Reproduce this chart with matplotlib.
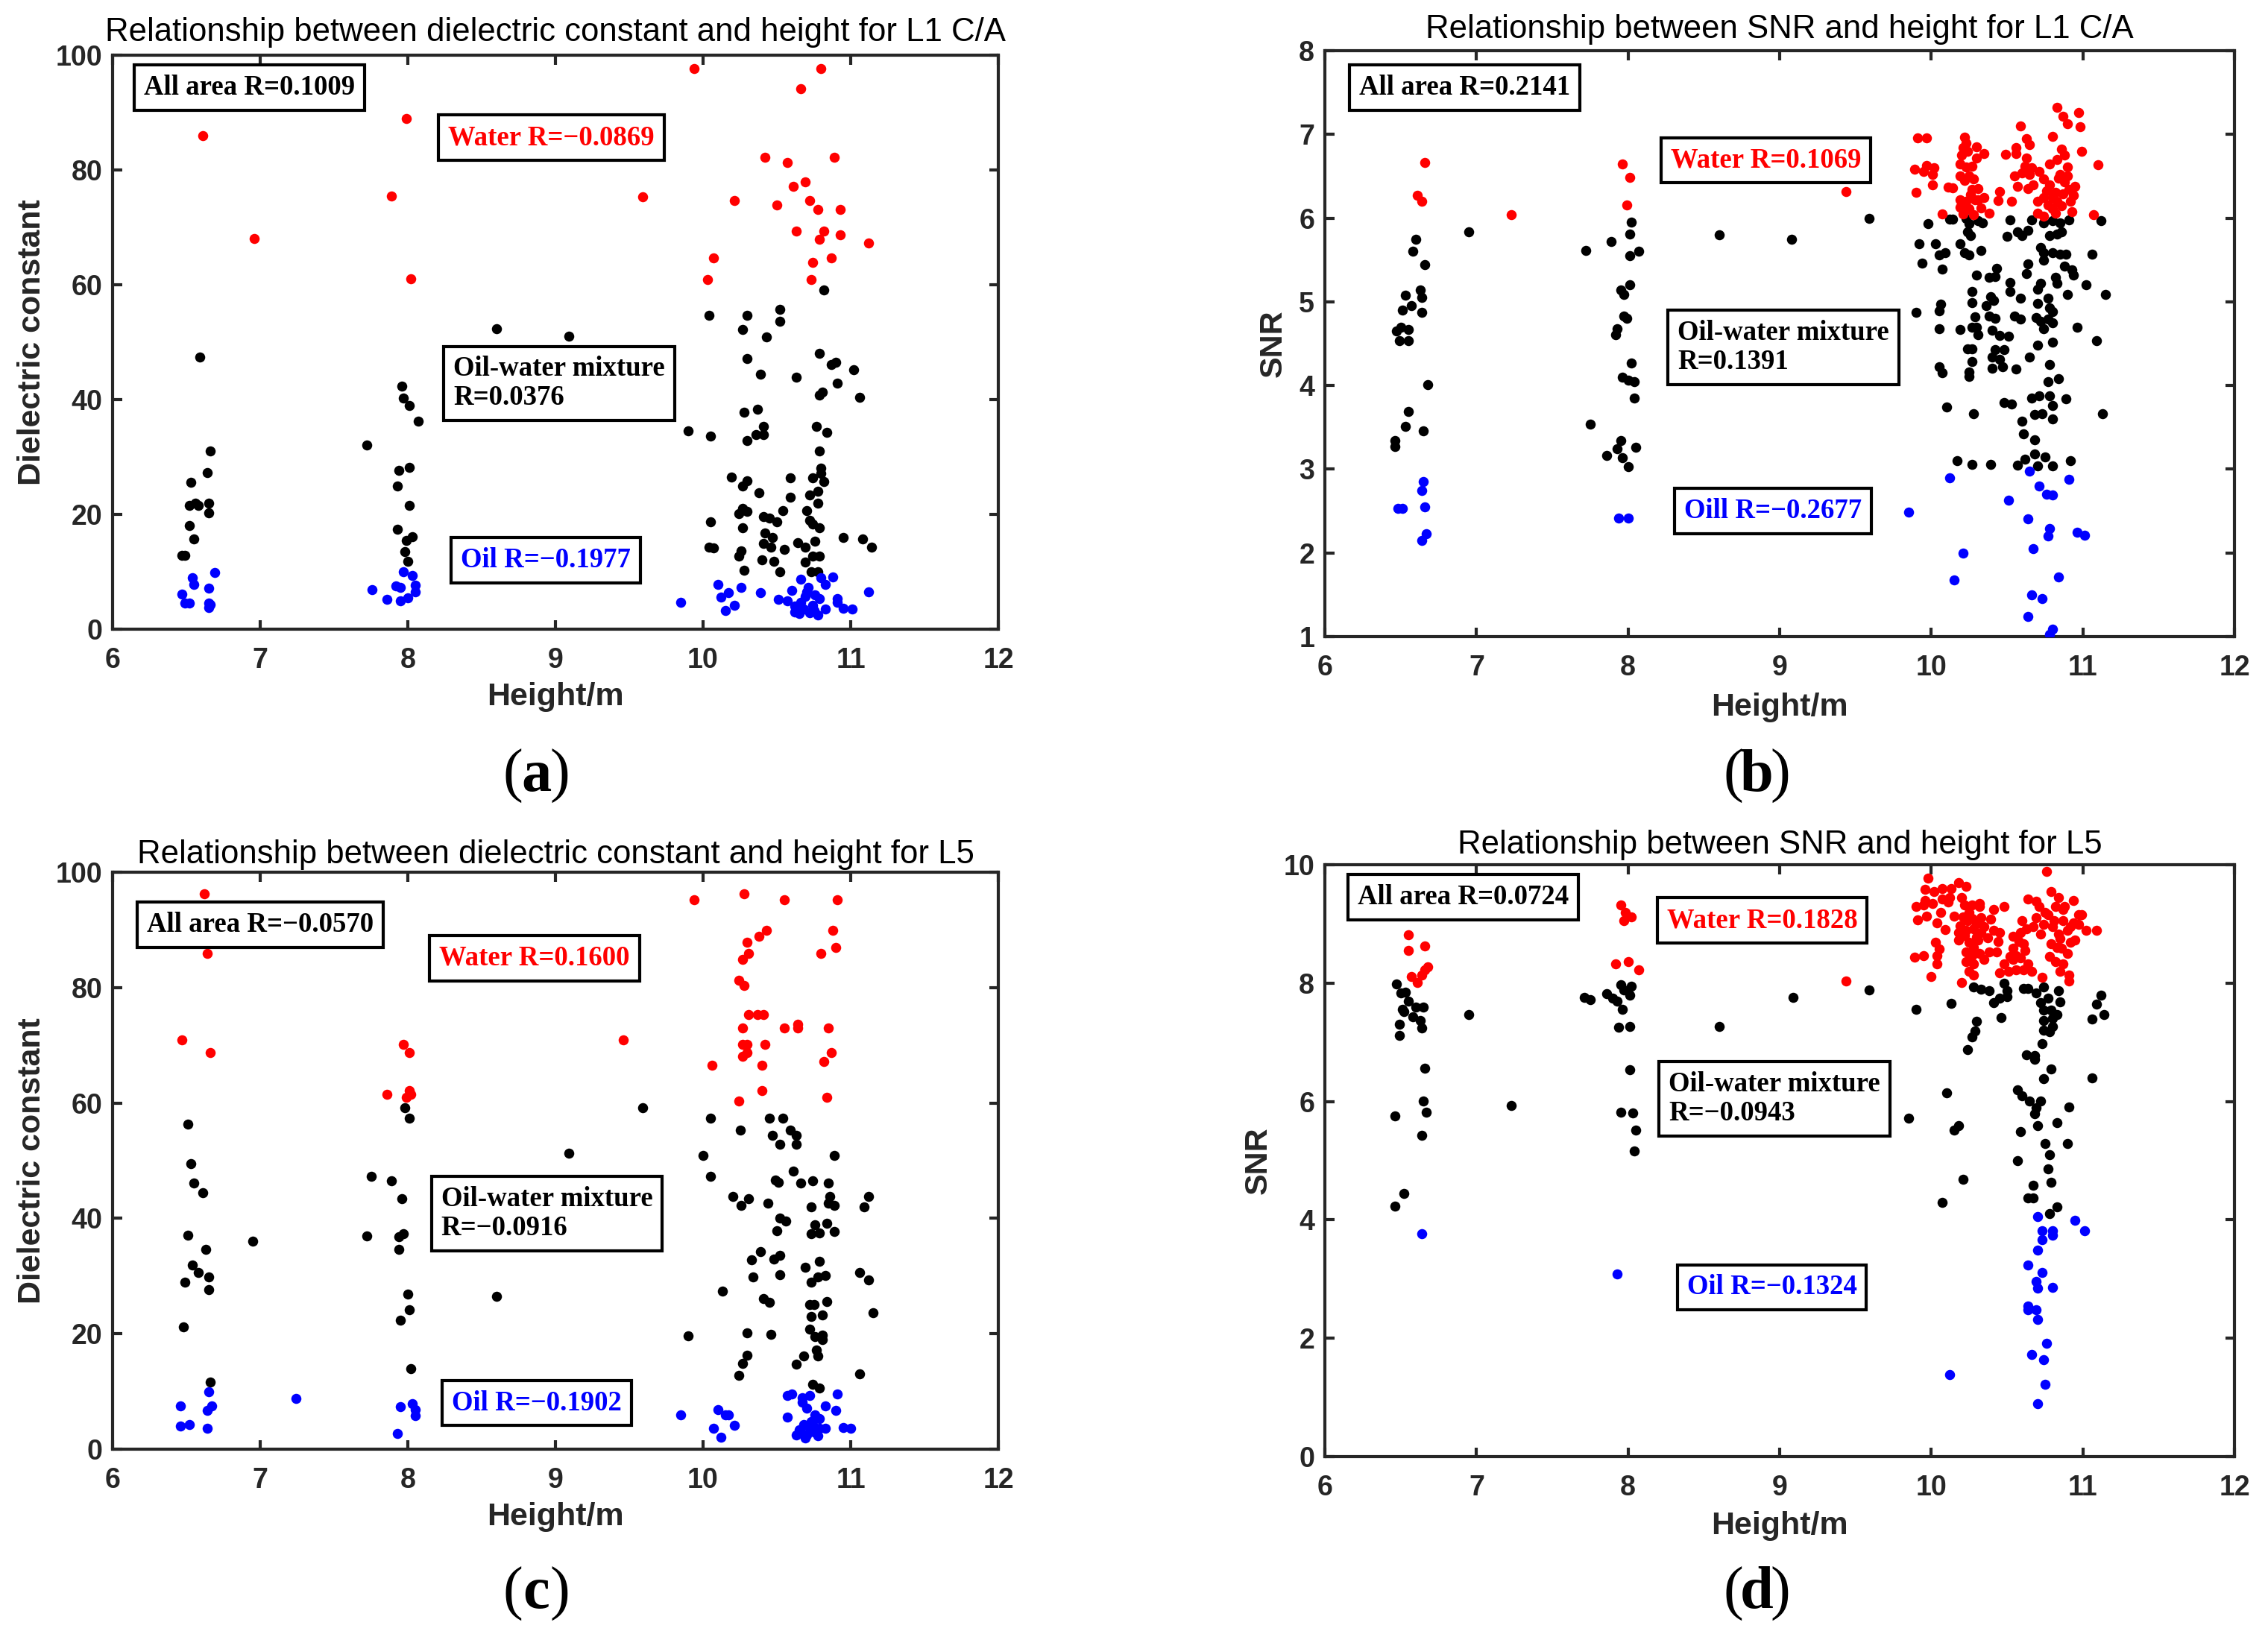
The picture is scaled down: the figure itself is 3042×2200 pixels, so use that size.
import matplotlib
matplotlib.use("Agg")
import matplotlib.pyplot as plt
import numpy as np

plt.rcParams['font.family'] = ['Liberation Sans', 'DejaVu Sans']

# ---------------- Panel (a): dielectric constant, L1 C/A ----------------
a_water_x = [6.61, 6.96, 7.99, 7.89, 8.02, 9.94, 10.80, 10.66, 10.42, 10.57, 10.89, 9.59, 10.21, 10.61, 10.69,
             10.50, 10.72, 10.78, 10.93, 10.63, 10.82, 10.79, 10.93, 11.12, 10.07, 10.74, 10.87, 10.03, 10.73]
a_water_y = [86.0, 68.0, 89.0, 75.4, 61.0, 97.6, 97.6, 94.1, 82.2, 81.3, 82.2, 75.3, 74.7, 77.1, 77.9,
             73.9, 74.7, 73.1, 73.1, 69.3, 69.3, 67.9, 68.7, 67.3, 64.7, 63.9, 64.7, 60.9, 60.9]
a_mix_x = [6.59, 6.66, 6.64, 6.53, 6.52, 6.56, 6.58, 6.65, 6.65, 6.52, 6.55, 6.47, 6.49,
           7.72, 7.96, 7.97, 8.01, 8.07, 7.94, 8.01, 7.93, 8.01, 7.93, 7.99, 8.03, 7.98, 8.00, 8.60, 9.09,
           10.82, 10.04, 10.30, 10.52, 10.52, 10.27, 10.43, 10.30, 10.79, 10.87, 10.90, 11.02, 10.39, 10.63,
           10.91, 10.79, 10.81, 11.06, 10.28, 10.37, 9.90, 10.05, 10.41, 10.36, 10.41, 10.30, 10.77, 10.84,
           10.79, 10.80, 10.80, 10.19, 10.30, 10.27, 10.59, 10.74, 10.82, 10.38, 10.59, 10.72, 10.78, 10.78,
           10.27, 10.24, 10.30, 10.54, 10.70, 10.05, 10.41, 10.45, 10.50, 10.72, 10.74, 10.79, 10.27, 10.42,
           10.47, 10.95, 11.08, 11.14, 10.04, 10.07, 10.41, 10.46, 10.55, 10.64, 10.69, 10.76, 10.26, 10.24,
           10.40, 10.48, 10.69, 10.74, 10.79, 10.28, 10.52, 10.73, 10.78]
a_mix_y = [47.4, 31.1, 27.3, 25.6, 21.6, 22.0, 21.5, 21.9, 20.3, 18.1, 15.7, 12.8, 12.8,
           32.1, 42.3, 40.2, 38.9, 36.2, 27.6, 28.2, 24.9, 21.6, 17.4, 15.5, 16.1, 13.5, 11.8, 52.4, 51.0,
           59.1, 54.7, 54.7, 55.7, 53.7, 52.2, 50.9, 47.2, 48.1, 46.1, 46.5, 45.2, 44.4, 43.9,
           42.9, 40.8, 41.3, 40.4, 37.8, 38.3, 34.5, 33.7, 35.3, 33.9, 33.9, 32.8, 35.3, 34.3,
           31.1, 28.1, 27.2, 26.5, 25.9, 24.9, 26.3, 26.3, 25.7, 23.8, 23.0, 23.4, 24.0, 22.0,
           21.1, 20.1, 20.5, 20.7, 20.7, 18.7, 19.6, 19.3, 18.7, 19.0, 18.3, 17.7, 17.7, 16.7,
           16.0, 16.0, 15.7, 14.3, 14.3, 14.1, 14.9, 14.3, 13.9, 15.0, 14.3, 15.3, 13.7, 12.7,
           12.1, 11.8, 11.7, 12.7, 12.7, 10.2, 10.0, 10.0, 10.0]
a_oil_x = [6.54, 6.55, 6.69, 6.65, 6.47, 6.49, 6.52, 6.65, 6.66, 6.65,
           7.97, 8.03, 7.76, 7.86, 7.92, 7.95, 8.05, 8.05, 8.00, 7.95,
           9.85, 10.10, 10.17, 10.12, 10.15, 10.21, 10.26, 10.39, 10.51, 10.57, 10.60, 10.66, 10.71, 10.80,
           10.83, 10.88, 10.66, 10.65, 10.72, 10.78, 10.83, 10.69, 10.76, 10.79, 10.91, 10.91, 10.95, 11.01,
           11.12, 10.62, 10.68, 10.74, 10.70, 10.75, 10.62]
a_oil_y = [8.9, 7.8, 9.9, 7.2, 6.1, 4.5, 4.5, 4.6, 4.3, 3.8,
           10.0, 9.4, 6.9, 5.2, 7.5, 7.3, 7.6, 6.5, 5.5, 4.9,
           4.7, 7.8, 6.3, 5.6, 3.3, 4.2, 7.3, 6.4, 5.2, 4.9, 6.8, 8.7, 7.3, 8.9,
           7.8, 9.1, 4.7, 2.7, 2.8, 2.5, 3.5, 5.7, 6.0, 5.3, 5.3, 4.7, 3.6, 3.5,
           6.5, 4.0, 3.5, 4.2, 6.5, 3.2, 3.0]

# ---------------- Panel (b): SNR, L1 C/A ----------------
b_water_x = [6.66, 6.61, 6.64, 7.23, 7.96, 8.01, 7.99, 9.44,
             10.83, 10.87, 10.90, 10.97, 10.98, 10.59, 10.63, 10.65, 10.80, 9.91, 9.97, 10.22, 10.23, 10.21,
             10.30, 10.35, 10.30, 10.20, 10.19, 10.23, 10.49, 10.56, 10.56, 10.63, 10.86, 10.88, 10.99, 11.10,
             10.78, 10.83, 10.90, 9.89, 9.97, 10.02, 9.95, 10.01, 10.01, 9.90, 10.11, 10.14, 10.19, 10.25,
             10.28, 10.27, 10.31, 10.19, 10.23, 10.29, 10.31, 10.19, 10.25, 10.28, 10.07, 10.38, 10.45, 10.44,
             10.53, 10.55, 10.60, 10.65, 10.71, 10.74, 10.57, 10.64, 10.67, 10.85, 10.88, 10.95, 10.82, 10.87,
             10.91, 10.94, 10.74, 10.77, 10.83, 10.80, 10.70, 10.74, 10.82, 10.92, 10.93, 11.07,
             10.24, 10.27, 10.22, 10.26, 10.33, 10.21, 10.78, 10.84, 10.80, 10.86, 10.76, 10.70, 10.66,
             10.62, 10.90, 10.35]
b_water_y = [6.66, 6.27, 6.20, 6.04, 6.65, 6.49, 6.16, 6.32,
             7.32, 7.22, 7.13, 7.26, 7.09, 7.10, 6.95, 6.88, 6.98, 6.96, 6.96, 6.97, 6.90, 6.84,
             6.85, 6.77, 6.72, 6.75, 6.65, 6.61, 6.76, 6.84, 6.77, 6.72, 6.82, 6.75, 6.80, 6.64,
             6.65, 6.70, 6.61, 6.58, 6.63, 6.60, 6.56, 6.52, 6.40, 6.31, 6.37, 6.36, 6.50, 6.50,
             6.47, 6.34, 6.35, 6.22, 6.20, 6.22, 6.22, 6.13, 6.11, 6.04, 6.05, 6.06, 6.32, 6.21,
             6.20, 6.50, 6.54, 6.52, 6.56, 6.47, 6.38, 6.35, 6.40, 6.52, 6.43, 6.38, 6.31, 6.29,
             6.34, 6.27, 6.25, 6.16, 6.20, 6.11, 6.06, 6.02, 6.06, 6.20, 6.08, 6.04,
             6.80, 6.62, 6.45, 6.28, 6.12, 6.05, 6.40, 6.48, 6.25, 6.15, 6.33, 6.20, 6.60,
             6.62, 6.50, 6.25]
b_mix_x = [6.95, 6.60, 6.58, 6.66, 6.63, 6.64, 6.53, 6.51, 6.57, 6.64, 6.47, 6.50, 6.55, 6.49, 6.55,
           6.68, 6.55, 6.53, 6.65, 6.46, 6.46,
           7.72, 7.89, 8.02, 8.01, 8.01, 8.07, 7.95, 7.97, 8.01, 7.97, 7.99, 7.93, 7.92, 8.02, 7.96,
           8.00, 8.04, 8.04, 7.75, 7.95, 7.93, 7.96, 7.86, 8.05, 8.00, 8.60, 9.08,
           9.59, 10.14, 10.12, 9.98, 10.23, 10.25, 10.31, 10.34, 10.24, 10.26, 10.52, 10.66, 10.74, 10.80,
           10.85, 10.91, 11.12, 10.57, 10.60, 10.64, 10.50, 10.78, 10.83, 10.86, 9.92, 10.03, 10.19, 10.05,
           10.09, 10.22, 10.25, 10.33, 9.94, 10.07, 10.72, 10.74, 10.80, 10.85, 10.89, 10.74, 11.06, 10.64,
           10.63, 10.43, 10.38, 10.42, 10.30, 10.88, 10.93, 10.94, 10.82, 10.83, 11.02, 10.52, 10.52, 10.72,
           10.70, 11.15, 10.90, 10.27, 10.27, 10.39, 10.41, 10.36, 10.59, 10.70, 10.77, 10.78, 10.80, 10.06,
           10.05, 9.90, 10.29, 10.30, 10.27, 10.38, 10.42, 10.55, 10.59, 10.69, 10.72, 10.74, 10.80, 10.77,
           10.05, 10.19, 10.96, 10.40, 10.45, 10.51, 10.31, 11.09, 10.70, 10.80, 10.24, 10.27, 10.42, 10.48,
           10.40, 10.45, 10.27, 10.65, 10.05, 10.07, 10.25, 10.25, 10.40, 10.47, 10.56, 10.78, 10.77, 10.84,
           10.10, 10.28, 10.48, 10.53, 10.66, 10.71, 10.78, 10.80, 10.89, 11.13, 10.68, 10.73, 10.80, 10.60,
           10.61, 10.68, 10.17, 10.27, 10.39, 10.57, 10.62, 10.68, 10.75, 10.70, 10.80, 10.92]
b_mix_y = [5.84, 5.75, 5.60, 5.44, 5.14, 5.05, 5.08, 4.90, 4.95, 4.87, 4.65, 4.70, 4.67, 4.54, 4.54,
           4.01, 3.69, 3.51, 3.46, 3.34, 3.27,
           5.61, 5.72, 5.95, 5.81, 5.55, 5.60, 5.14, 5.09, 5.20, 4.83, 4.80, 4.68, 4.61, 4.27, 4.10,
           4.06, 4.05, 3.85, 3.54, 3.34, 3.24, 3.14, 3.16, 3.26, 3.03, 5.80, 5.75,
           6.00, 5.99, 5.99, 5.93, 6.00, 5.93, 5.97, 5.94, 5.84, 5.79, 5.98, 5.98, 5.94, 5.97,
           5.94, 5.98, 5.97, 5.84, 5.79, 5.85, 5.78, 5.79, 5.81, 5.84, 5.69, 5.69, 5.69, 5.56,
           5.59, 5.59, 5.56, 5.61, 5.46, 5.39, 5.65, 5.59, 5.59, 5.57, 5.57, 5.50, 5.57, 5.45,
           5.34, 5.40, 5.29, 5.30, 5.32, 5.43, 5.38, 5.32, 5.29, 5.22, 5.20, 5.23, 5.12, 5.22,
           5.15, 5.09, 5.09, 5.12, 4.99, 5.06, 5.02, 4.95, 5.04, 4.98, 5.04, 4.93, 4.88, 4.97,
           4.89, 4.87, 4.82, 4.70, 4.70, 4.83, 4.80, 4.83, 4.79, 4.81, 4.77, 4.68, 4.75, 4.79,
           4.68, 4.67, 4.70, 4.66, 4.60, 4.59, 4.61, 4.54, 4.48, 4.52, 4.44, 4.44, 4.43, 4.43,
           4.34, 4.31, 4.29, 4.34, 4.22, 4.15, 4.16, 4.11, 4.21, 4.22, 4.20, 4.25, 4.05, 4.08,
           3.74, 3.66, 3.80, 3.78, 3.85, 3.88, 3.88, 3.76, 3.84, 3.66, 3.65, 3.66, 3.60, 3.57,
           3.42, 3.35, 3.10, 3.06, 3.06, 3.05, 3.12, 3.18, 3.15, 3.04, 3.04, 3.10]
b_oil_x = [6.65, 6.64, 6.48, 6.51, 6.66, 6.67, 6.64, 7.94, 8.00,
           10.65, 10.12, 10.91, 10.71, 10.76, 10.80, 10.51, 9.85, 10.64, 10.78, 10.77, 10.96, 11.01,
           10.67, 10.21, 10.15, 10.84, 10.66, 10.73, 10.64, 10.80, 10.78]
b_oil_y = [2.85, 2.75, 2.53, 2.53, 2.55, 2.23, 2.15, 2.42, 2.42,
           2.98, 2.90, 2.88, 2.80, 2.70, 2.69, 2.63, 2.49, 2.41, 2.29, 2.20, 2.25, 2.21,
           2.05, 2.00, 1.68, 1.71, 1.50, 1.45, 1.24, 1.09, 1.03]

# ---------------- Panel (c): dielectric constant, L5 ----------------
c_water_x = [6.62, 6.64, 6.47, 6.66, 7.97, 8.01, 7.86, 8.01, 8.02, 7.99, 9.46,
             9.94, 10.28, 10.55, 10.91, 10.88, 10.43, 10.38, 10.30, 10.90, 10.31, 10.27, 10.80, 10.24, 10.28,
             10.31, 10.37, 10.41, 10.27, 10.55, 10.64, 10.64, 10.85, 10.27, 10.30, 10.30, 10.27, 10.42, 10.87,
             10.82, 10.06, 10.40, 10.40, 10.24, 10.84]
c_water_y = [96.3, 85.9, 70.9, 68.7, 70.1, 68.7, 61.5, 62.1, 61.5, 61.0, 70.9,
             95.2, 96.3, 95.2, 95.2, 89.9, 89.9, 88.9, 87.8, 86.9, 85.9, 84.9, 85.9, 81.3, 80.4,
             75.3, 75.3, 75.3, 73.0, 73.0, 73.7, 73.0, 73.0, 70.1, 70.1, 68.7, 68.1, 70.1, 68.7,
             67.2, 66.6, 66.6, 62.1, 60.3, 61.0]
c_mix_x = [7.98, 8.01, 6.51, 9.09, 6.53, 6.55, 6.61, 7.75, 7.89, 7.96, 6.51, 6.95, 7.72, 7.94, 7.97,
           7.94, 6.63, 6.54, 6.58, 6.65, 6.49, 6.65, 8.00, 8.60, 8.01, 7.95, 6.48, 8.02, 6.66,
           9.59, 10.05, 10.45, 10.54, 10.25, 10.59, 10.63, 10.47, 10.52, 10.63, 10.00, 10.89, 10.05, 10.61,
           10.49, 10.51, 10.66, 10.74, 10.85, 10.20, 10.26, 10.31, 10.44, 10.73, 10.86, 10.89, 10.85, 11.12,
           11.09, 10.52, 10.56, 10.50, 10.76, 10.84, 10.73, 10.79, 10.89, 10.39, 10.33, 10.48, 10.52, 10.79,
           10.69, 11.06, 11.12, 10.34, 10.52, 10.73, 10.78, 10.83, 10.13, 10.41, 10.45, 10.72, 10.75, 10.84,
           11.15, 10.73, 10.81, 9.90, 10.30, 10.46, 10.72, 10.76, 10.81, 10.81, 10.77, 10.78, 10.68, 10.30,
           10.27, 10.63, 10.24, 11.06, 10.74, 10.79]
c_mix_y = [59.2, 57.4, 56.3, 51.3, 49.5, 46.1, 44.5, 47.3, 46.5, 43.4, 37.1, 36.1, 37.0, 36.8, 37.3,
           34.6, 34.6, 31.9, 30.6, 29.9, 29.0, 27.6, 26.9, 26.5, 24.2, 22.4, 21.2, 13.9, 11.6,
           59.2, 57.4, 57.4, 57.4, 55.3, 55.3, 54.4, 54.4, 52.8, 52.8, 50.9, 50.9, 47.3, 48.2,
           46.6, 46.3, 46.1, 46.5, 46.1, 43.8, 42.2, 43.4, 42.6, 42.0, 43.8, 42.3, 42.6, 43.8,
           42.0, 40.1, 39.5, 37.9, 38.9, 39.2, 37.3, 37.5, 37.7, 34.2, 32.8, 33.0, 33.6, 32.5,
           31.5, 30.6, 29.3, 29.9, 30.2, 29.0, 29.9, 30.1, 27.4, 26.1, 25.4, 25.1, 25.1, 25.6,
           23.7, 23.0, 23.3, 19.7, 20.1, 19.9, 20.8, 19.5, 19.8, 19.0, 17.2, 16.2, 16.1, 16.3,
           14.9, 14.7, 12.8, 13.0, 11.2, 10.6]
c_oil_x = [6.65, 6.46, 6.64, 6.67, 6.46, 6.52, 6.64, 7.24, 7.95, 8.03, 8.05, 8.05, 7.93,
           9.85, 10.10, 10.15, 10.17, 10.07, 10.21, 10.12, 10.57, 10.60, 10.67, 10.72, 10.67, 10.70, 10.57,
           10.91, 10.83, 10.90, 10.76, 10.79, 10.68, 10.72, 10.75, 10.66, 10.79, 10.83, 10.74, 10.95, 11.00,
           10.63, 10.70, 10.78, 10.69, 10.73, 10.65]
c_oil_y = [9.9, 7.5, 6.7, 7.5, 4.0, 4.3, 3.6, 8.8, 7.3, 7.9, 6.9, 5.8, 2.7,
           5.9, 6.8, 5.9, 6.0, 3.6, 4.1, 2.1, 9.3, 9.6, 8.9, 9.3, 8.1, 7.1, 5.6,
           9.5, 7.5, 6.7, 5.9, 5.3, 4.3, 3.6, 3.0, 3.0, 3.6, 3.6, 4.3, 3.8, 3.6,
           2.4, 2.5, 2.3, 2.0, 4.8, 3.3]

# ---------------- Panel (d): SNR, L5 ----------------
d_water_x = [6.55, 6.55, 6.66, 6.57, 6.61, 6.64, 6.68, 6.66, 7.95, 7.98, 8.02, 7.97, 7.92, 8.00, 8.07, 9.44,
             10.76, 9.98, 9.96, 10.02, 10.07, 10.13, 10.18, 10.23, 9.96, 10.01, 10.07, 10.11, 9.90, 9.95,
             10.20, 10.22, 10.27, 10.32, 10.32, 10.15, 10.21, 10.27, 10.33, 10.39, 9.91, 9.97, 10.04, 10.09,
             10.41, 10.48, 10.19, 10.23, 10.28, 10.33, 10.41, 10.45, 10.18, 10.25, 10.31, 10.37, 10.03, 10.05,
             10.04, 10.04, 9.89, 9.95, 10.23, 10.27, 10.32, 10.38, 10.43, 10.23, 10.28, 10.35, 10.00, 10.25,
             10.28, 10.45, 10.51, 10.56, 10.61, 10.66, 10.48, 10.54, 10.59, 10.64, 10.20, 10.73, 10.54, 10.59,
             10.63, 10.54, 10.61, 10.56, 10.60, 10.64, 10.69, 10.71, 10.79, 10.84, 10.82, 10.77, 10.87, 10.94,
             10.99, 10.69, 10.74, 10.81, 10.87, 10.94, 10.72, 10.84, 10.90, 10.97, 11.02, 11.09, 10.79, 10.86,
             10.92, 10.95, 10.82, 10.87, 10.85, 10.91, 10.91,
             10.25, 10.30, 10.22, 10.28, 10.35, 10.24, 10.30, 10.18, 10.75, 10.80, 10.85, 10.90, 10.78,
             10.88, 10.83, 10.92, 10.58, 10.62, 10.52, 10.44, 10.67, 10.97, 10.12, 10.06]
d_water_y = [8.82, 8.55, 8.63, 8.11, 8.01, 8.13, 8.28, 8.22, 9.32, 9.20, 9.12, 9.06, 8.32, 8.36, 8.23, 8.04,
             9.89, 9.77, 9.58, 9.55, 9.60, 9.60, 9.70, 9.64, 9.40, 9.35, 9.42, 9.37, 9.29, 9.32,
             9.45, 9.32, 9.32, 9.35, 9.29, 9.13, 9.12, 9.09, 9.11, 9.08, 9.07, 9.13, 9.02, 8.91,
             9.25, 9.29, 8.97, 8.89, 8.92, 8.86, 8.89, 8.86, 8.73, 8.69, 8.73, 8.76, 8.69, 8.58,
             8.46, 8.33, 8.44, 8.46, 8.53, 8.46, 8.50, 8.53, 8.53, 8.36, 8.33, 8.40, 8.11, 8.20,
             8.13, 8.17, 8.20, 8.23, 8.23, 8.20, 8.33, 8.40, 8.43, 8.33, 8.01, 8.10, 8.79, 8.86,
             8.92, 8.59, 8.66, 8.46, 9.06, 9.42, 9.38, 9.29, 9.55, 9.45, 9.29, 9.16, 9.25, 9.39,
             9.16, 9.10, 8.99, 9.06, 9.06, 9.02, 8.83, 8.83, 8.89, 8.99, 8.89, 8.89, 8.66, 8.59,
             8.69, 8.73, 8.36, 8.33, 8.20, 8.13, 8.03,
             9.20, 9.00, 8.80, 8.60, 8.95, 9.05, 8.78, 8.85, 9.20, 8.95, 8.75, 8.50, 8.45,
             9.30, 8.60, 8.95, 8.70, 8.55, 8.45, 8.70, 8.95, 9.15, 9.45, 9.20]
d_mix_x = [6.47, 6.50, 6.53, 6.55, 6.51, 6.52, 6.60, 6.65, 6.58, 6.63, 6.64, 6.49, 6.49, 6.95, 6.66,
           6.65, 6.67, 6.46, 6.64, 6.52, 6.46,
           7.71, 7.75, 7.86, 7.90, 7.93, 7.95, 8.02, 7.97, 8.01, 7.96, 7.94, 8.01, 8.01, 7.95, 8.03,
           8.05, 8.04, 7.23, 8.60, 9.09,
           9.59, 9.90, 10.13, 10.28, 10.33, 10.38, 10.41, 10.45, 10.48, 10.50, 10.50, 10.46, 10.61, 10.64,
           10.69, 10.74, 10.72, 10.77, 10.84, 10.85, 10.74, 10.79, 10.83, 10.74, 10.80, 10.74, 10.78, 10.80,
           11.12, 11.09, 11.14, 11.06, 10.30, 10.29, 10.27, 10.24, 10.73, 10.63, 10.68, 10.68, 10.79, 10.74,
           11.06, 10.10, 10.57, 10.60, 10.65, 10.72, 10.69, 10.68, 10.91, 9.85, 10.18, 10.15, 10.59, 10.70,
           10.83, 10.75, 10.90, 10.78, 10.57, 10.77, 10.21, 10.67, 10.79, 10.07, 10.64, 10.67, 10.83, 10.78]
d_mix_y = [7.99, 7.83, 7.85, 7.70, 7.56, 7.52, 7.60, 7.60, 7.43, 7.37, 7.24, 7.31, 7.12, 7.47, 6.56,
           6.01, 5.82, 5.76, 5.43, 4.45, 4.23,
           7.76, 7.72, 7.82, 7.75, 7.69, 7.97, 7.95, 7.88, 7.79, 7.56, 7.25, 7.27, 6.54, 5.82, 5.81,
           5.52, 5.16, 5.93, 7.27, 7.76,
           7.88, 7.56, 7.66, 7.93, 7.90, 7.87, 7.67, 7.74, 8.00, 7.87, 7.77, 7.42, 7.91, 7.91,
           7.84, 7.93, 7.67, 7.74, 7.87, 7.68, 7.54, 7.54, 7.47, 7.37, 7.41, 7.21, 7.18, 7.27,
           7.80, 7.64, 7.47, 7.39, 7.36, 7.19, 7.09, 6.88, 6.98, 6.79, 6.71, 6.78, 6.55, 6.38,
           6.40, 6.14, 6.20, 6.09, 6.01, 6.01, 5.89, 5.79, 5.91, 5.72, 5.59, 5.52, 5.49, 5.59,
           5.64, 5.29, 5.29, 5.10, 5.00, 4.86, 4.69, 4.59, 4.63, 4.30, 4.37, 4.37, 4.22, 4.10]
d_oil_x = [6.64, 7.93,
           10.70, 10.95, 11.01, 10.73, 10.80, 10.80, 10.73, 10.70, 10.64, 10.73, 10.69, 10.70, 10.80,
           10.64, 10.64, 10.69, 10.70, 10.76, 10.66, 10.74, 10.12, 10.75, 10.70]
d_oil_y = [3.77, 3.09,
           4.06, 3.99, 3.81, 3.81, 3.81, 3.74, 3.66, 3.49, 3.24, 3.11, 2.96, 2.85, 2.86,
           2.55, 2.48, 2.48, 2.32, 1.92, 1.72, 1.64, 1.39, 1.22, 0.90]

titles = ["Relationship between dielectric constant and height for L1 C/A",
          "Relationship between SNR and height for L1 C/A",
          "Relationship between dielectric constant and height for L5",
          "Relationship between SNR and height for L5"]
ylabels = ["Dielectric constant", "SNR", "Dielectric constant", "SNR"]
xlabel = "Height/m"
panel_tags = ["a", "b", "c", "d"]
x_ticks = [6, 7, 8, 9, 10, 11, 12]
y_ticks = [[0, 20, 40, 60, 80, 100], [1, 2, 3, 4, 5, 6, 7, 8],
           [0, 20, 40, 60, 80, 100], [0, 2, 4, 6, 8, 10]]
ann_all = ["All area R=0.1009", "All area R=0.2141", "All area R=\u22120.0570", "All area R=0.0724"]
ann_water = ["Water R=\u22120.0869", "Water R=0.1069", "Water R=0.1600", "Water R=0.1828"]
ann_mix = ["Oil-water mixture\nR=0.0376", "Oil-water mixture\nR=0.1391",
           "Oil-water mixture\nR=\u22120.0916", "Oil-water mixture\nR=\u22120.0943"]
ann_oil = ["Oil R=\u22120.1977", "Oill R=\u22120.2677", "Oil R=\u22120.1902", "Oil R=\u22120.1324"]

data = [
    (a_water_x, a_water_y, a_mix_x, a_mix_y, a_oil_x, a_oil_y),
    (b_water_x, b_water_y, b_mix_x, b_mix_y, b_oil_x, b_oil_y),
    (c_water_x, c_water_y, c_mix_x, c_mix_y, c_oil_x, c_oil_y),
    (d_water_x, d_water_y, d_mix_x, d_mix_y, d_oil_x, d_oil_y),
]

W, H = 3042, 2200
fig = plt.figure(figsize=(W / 100, H / 100), dpi=100)
fig.patch.set_facecolor('white')

# axes boxes in pixels: left, top, right, bottom
boxes = [(151, 74, 1339, 844), (1777, 68, 2997, 854),
         (151, 1170, 1339, 1944), (1777, 1160, 2997, 1954)]
title_y = [1.039, 1.036, 1.031, 1.033]
xlab_y = [-0.118, -0.121, -0.118, -0.117]
ylab_x = [-0.091, -0.057, -0.091, -0.073]
# annotation positions (axes fraction: x of text left, y of text center)
ann_pos = [
    [(0.035, 0.944), (0.379, 0.856), (0.385, 0.428), (0.393, 0.12)],
    [(0.038, 0.937), (0.380, 0.813), (0.388, 0.494), (0.395, 0.214)],
    [(0.039, 0.909), (0.369, 0.851), (0.371, 0.408), (0.383, 0.08)],
    [(0.036, 0.945), (0.376, 0.906), (0.378, 0.605), (0.398, 0.286)],
]
tag_pos = [(719, 1041), (2356, 1041), (719, 2138), (2356, 2138)]

spine_col = '#262626'
ms = 95

for i in range(4):
    l, t, r, b = boxes[i]
    ax = fig.add_axes([l / W, 1 - b / H, (r - l) / W, (b - t) / H])
    wx, wy, mx, my, ox, oy = data[i]
    ax.scatter(mx, my, s=ms, c='black', linewidths=0, zorder=3)
    ax.scatter(wx, wy, s=ms, c='#ff0000', linewidths=0, zorder=3)
    ax.scatter(ox, oy, s=ms, c='#0000ff', linewidths=0, zorder=3)
    ax.set_xlim(6, 12)
    ax.set_ylim(y_ticks[i][0], y_ticks[i][-1])
    ax.set_xticks(x_ticks)
    ax.set_yticks(y_ticks[i])
    for sp in ax.spines.values():
        sp.set_linewidth(3.0)
        sp.set_color(spine_col)
    ax.tick_params(direction='in', length=9, width=3.0, color=spine_col,
                   top=True, right=True, labelsize=27, labelcolor='#262626')
    ax.tick_params(axis='x', pad=17)
    ax.tick_params(axis='y', pad=10)
    for lbl in ax.get_xticklabels() + ax.get_yticklabels():
        lbl.set_fontweight('bold')
    ax.set_title(titles[i], fontsize=31.5, fontweight='normal', y=title_y[i], va='center',
                 color='black', pad=0)
    ax.set_xlabel(xlabel, fontsize=31, fontweight='bold', color='#262626')
    ax.xaxis.set_label_coords(0.5, xlab_y[i])
    ax.xaxis.label.set_va('center')
    ax.set_ylabel(ylabels[i], fontsize=31, fontweight='bold', color='#262626')
    ax.yaxis.set_label_coords(ylab_x[i], 0.5)
    ax.yaxis.label.set_va('center')

    texts = [ann_all[i], ann_water[i], ann_mix[i], ann_oil[i]]
    colors = ['black', '#ff0000', 'black', '#0000ff']
    for (px, py), txt, col in zip(ann_pos[i], texts, colors):
        ax.text(px, py, txt, transform=ax.transAxes, ha='left', va='center',
                fontsize=26.5, fontweight='bold', color=col, family='Liberation Serif',
                linespacing=1.15, zorder=5,
                bbox=dict(boxstyle='square,pad=0.35', facecolor='white', edgecolor='black', linewidth=3.0))

    # panel tag: regular parentheses, bold letter
    tx, ty = tag_pos[i]
    fx, fy = tx / W, 1 - ty / H
    fig.text(fx, fy, panel_tags[i], fontsize=58, fontweight='bold', family='Liberation Serif',
             ha='center', va='center')
    fig.text(fx - 18 / W, fy, '(', fontsize=58, family='Liberation Serif', ha='right', va='center')
    fig.text(fx + 18 / W, fy, ')', fontsize=58, family='Liberation Serif', ha='left', va='center')

fig.savefig('out.png', dpi=100, facecolor='white')
